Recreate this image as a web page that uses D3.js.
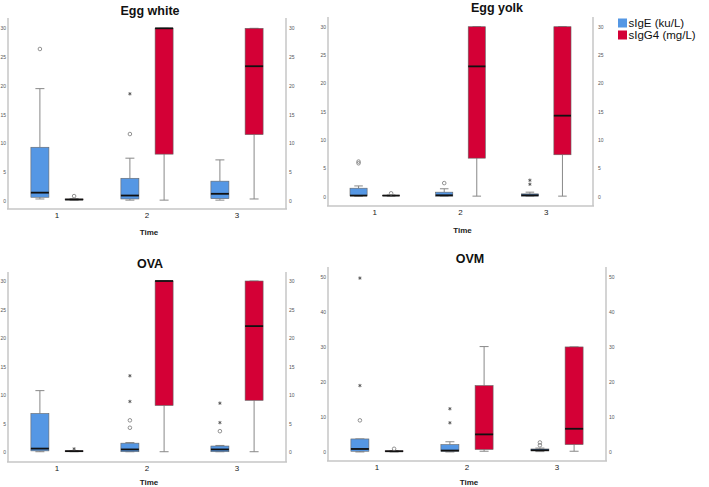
<!DOCTYPE html>
<html>
<head>
<meta charset="utf-8">
<script src="https://cdn.jsdelivr.net/npm/d3@7"></script>
<style>
body{margin:0;background:#fff;}
svg{display:block;font-family:"Liberation Sans",Arial,sans-serif;}
</style>
</head>
<body>
<div id="chart"></div>
<script>
//categories and series
var times=["1","2","3"];
var series=["sIgE (ku/L)","sIgG4 (mg/L)"];
var titles=["Egg white","Egg yolk","OVA","OVM"];
var ticks30=[0,5,10,15,20,25,30];
var ticks50=[0,10,20,30,40,50];

//box stats per time: [low whisker, Q1, median, Q3, high whisker]
var eggWhiteIgE=[[0.3,0.6,1.4,9.3,19.5],[0.1,0.3,0.9,3.9,7.4],[0.1,0.35,1.2,3.4,7.1]];
var eggWhiteIgG4=[[0.1,0.15,0.2,0.3,0.35],[0.1,8.1,30,30,30],[0.3,11.5,23.4,30,30]];
var eggYolkIgE=[[0.1,0.15,0.2,1.5,1.9],[0.1,0.1,0.25,0.8,1.4],[0.1,0.1,0.25,0.5,0.8]];
var eggYolkIgG4=[[0.1,0.15,0.2,0.25,0.3],[0.1,6.8,23.0,30,30],[0.1,7.4,14.3,30,30]];
var ovaIgE=[[0.1,0.25,0.65,6.8,10.8],[0.1,0.1,0.5,1.6,1.7],[0.1,0.1,0.5,1.1,1.2]];
var ovaIgG4=[[0.1,0.15,0.2,0.25,0.3],[0.1,8.2,30,30,30],[0.1,9.1,22.1,30,30]];
var ovmIgE=[[0.1,0.3,0.95,3.8,3.8],[0.1,0.3,0.5,2.2,3.0],[0.2,0.4,0.6,0.95,1.2]];
var ovmIgG4=[[0.1,0.2,0.3,0.4,0.5],[0.3,0.8,5.1,19.0,30.1],[0.3,2.2,6.7,30,30]];

//outliers: [time, series index, value, kind]
var eggWhiteOut=[["1",0,26.4,"o"],["2",0,11.6,"o"],["2",0,18.6,"*"],["1",1,0.8,"o"]];
var eggYolkOut=[["1",0,5.9,"o"],["1",0,6.2,"o"],["2",0,2.4,"o"],["3",0,2.2,"*"],["3",0,2.9,"*"],["1",1,0.6,"o"]];
var ovaOut=[["2",0,4.3,"o"],["2",0,5.6,"o"],["2",0,8.9,"*"],["2",0,13.4,"*"],["3",0,3.7,"o"],["3",0,5.2,"*"],["3",0,8.6,"*"],["1",1,0.6,"*"]];
var ovmOut=[["1",0,9.1,"o"],["1",0,19.0,"*"],["1",0,49.6,"*"],["2",0,8.4,"*"],["2",0,12.4,"*"],["3",0,2.0,"o"],["3",0,2.8,"o"],["1",1,1.0,"o"]];

var boxData=[[eggWhiteIgE,eggWhiteIgG4],[eggYolkIgE,eggYolkIgG4],[ovaIgE,ovaIgG4],[ovmIgE,ovmIgG4]];
var outData=[eggWhiteOut,eggYolkOut,ovaOut,ovmOut];
var tickData=[ticks30,ticks30,ticks30,ticks50];

var colors=["#5597e4","#d40036"];

//panel placement
var layout=[
    {left:8,right:286,top:18,bottom:209,y0:200.7,yTop:28.3,titleX:150,titleY:15,catY:219,timeY:235,gapR:3},
    {left:328,right:593,top:17,bottom:206,y0:196.7,yTop:26.7,titleX:497,titleY:12,catY:216,timeY:233,gapR:5},
    {left:8,right:286,top:272,bottom:462,y0:452.3,yTop:281,titleX:150,titleY:268,catY:472,timeY:485,gapR:3},
    {left:328,right:606,top:267,bottom:461,y0:452.3,yTop:276.7,titleX:470,titleY:263,catY:471.5,timeY:485,gapR:3}
];

var svg=d3.select("#chart").append("svg")
    .attr("width",709)
    .attr("height",487);

layout.forEach(function(L,p){
    var g=svg.append("g");
    var ticks=tickData[p];
    var yMax=d3.max(ticks);

    var x=d3.scaleBand().domain(times).range([L.left+4,L.right-4]);
    var y=d3.scaleLinear().domain([0,yMax]).range([L.y0,L.yTop]);
    var step=x.step();
    var off=[-0.19*step,0.19*step];
    var bw=0.2*step;
    var cx=function(t,s){return x(t)+x.bandwidth()/2+off[s];};

    //frame
    g.append("line").attr("x1",L.left).attr("x2",L.left).attr("y1",L.top).attr("y2",L.bottom);
    g.append("line").attr("x1",L.right).attr("x2",L.right).attr("y1",L.top).attr("y2",L.bottom);
    g.append("line").attr("x1",L.left-1).attr("x2",L.right+1).attr("y1",L.bottom).attr("y2",L.bottom);
    g.selectAll("line").attr("stroke","#c6c6c6").attr("stroke-width",1.5);

    //y axes both sides
    var la=g.append("g").attr("transform",`translate(${L.left-2},0)`)
        .call(d3.axisLeft(y).tickValues(ticks).tickSize(0).tickPadding(0));
    var ra=g.append("g").attr("transform",`translate(${L.right+L.gapR},0)`)
        .call(d3.axisRight(y).tickValues(ticks).tickSize(0).tickPadding(0));
    [la,ra].forEach(function(a){
        a.select(".domain").remove();
        a.selectAll("text").attr("font-size",5).attr("fill","#555").attr("font-family","Liberation Sans, Arial");
    });

    //x axis labels
    var xa=g.append("g").attr("transform",`translate(0,${L.catY-7})`)
        .call(d3.axisBottom(x).tickSize(0).tickPadding(0));
    xa.select(".domain").remove();
    xa.selectAll("text").attr("font-size",8).attr("fill","#222").attr("font-family","Liberation Sans, Arial");

    g.append("text").attr("x",(L.left+L.right)/2+2).attr("y",L.timeY)
        .attr("text-anchor","middle").attr("font-size",8).attr("font-weight","bold")
        .attr("fill","#222").text("Time");

    g.append("text").attr("x",L.titleX).attr("y",L.titleY)
        .attr("text-anchor","middle").attr("font-size",12.5).attr("font-weight","bold")
        .attr("fill","#111").text(titles[p]);

    //boxes
    boxData[p].forEach(function(arr,s){
        arr.forEach(function(b,i){
            var t=times[i];
            var c=cx(t,s);
            var bg=g.append("g");
            bg.append("line").attr("x1",c).attr("x2",c).attr("y1",y(b[0])).attr("y2",y(b[1]));
            bg.append("line").attr("x1",c).attr("x2",c).attr("y1",y(b[3])).attr("y2",y(b[4]));
            bg.append("line").attr("x1",c-bw/4).attr("x2",c+bw/4).attr("y1",y(b[0])).attr("y2",y(b[0]));
            bg.append("line").attr("x1",c-bw/4).attr("x2",c+bw/4).attr("y1",y(b[4])).attr("y2",y(b[4]));
            bg.selectAll("line").attr("stroke","#888").attr("stroke-width",1);
            bg.append("rect").attr("x",c-bw/2).attr("width",bw)
                .attr("y",y(b[3])).attr("height",Math.max(0.5,y(b[1])-y(b[3])))
                .attr("fill",colors[s]).attr("stroke","#666").attr("stroke-width",0.6);
            bg.append("line").attr("x1",c-bw/2).attr("x2",c+bw/2)
                .attr("y1",y(b[2])).attr("y2",y(b[2]))
                .attr("stroke","#111").attr("stroke-width",1.8);
        });
    });

    //outliers
    outData[p].forEach(function(o){
        var c=cx(o[0],o[1]);
        if(o[3]==="o"){
            g.append("circle").attr("cx",c).attr("cy",y(o[2])).attr("r",1.8)
                .attr("fill","none").attr("stroke","#777").attr("stroke-width",0.8);
        } else {
            g.append("path").attr("d",d3.symbol().type(d3.symbolAsterisk).size(8)())
                .attr("transform",`translate(${c},${y(o[2])})`)
                .attr("fill","none").attr("stroke","#555").attr("stroke-width",0.9);
        }
    });
});

//legend
var legend=svg.append("g");
series.forEach(function(s,i){
    legend.append("rect").attr("x",618).attr("y",18.5+i*12).attr("width",9).attr("height",9)
        .attr("fill",colors[i]);
    legend.append("text").attr("x",628.5).attr("y",27+i*12).attr("font-size",11.5)
        .attr("fill","#111").text(s);
});
</script>
</body>
</html>
